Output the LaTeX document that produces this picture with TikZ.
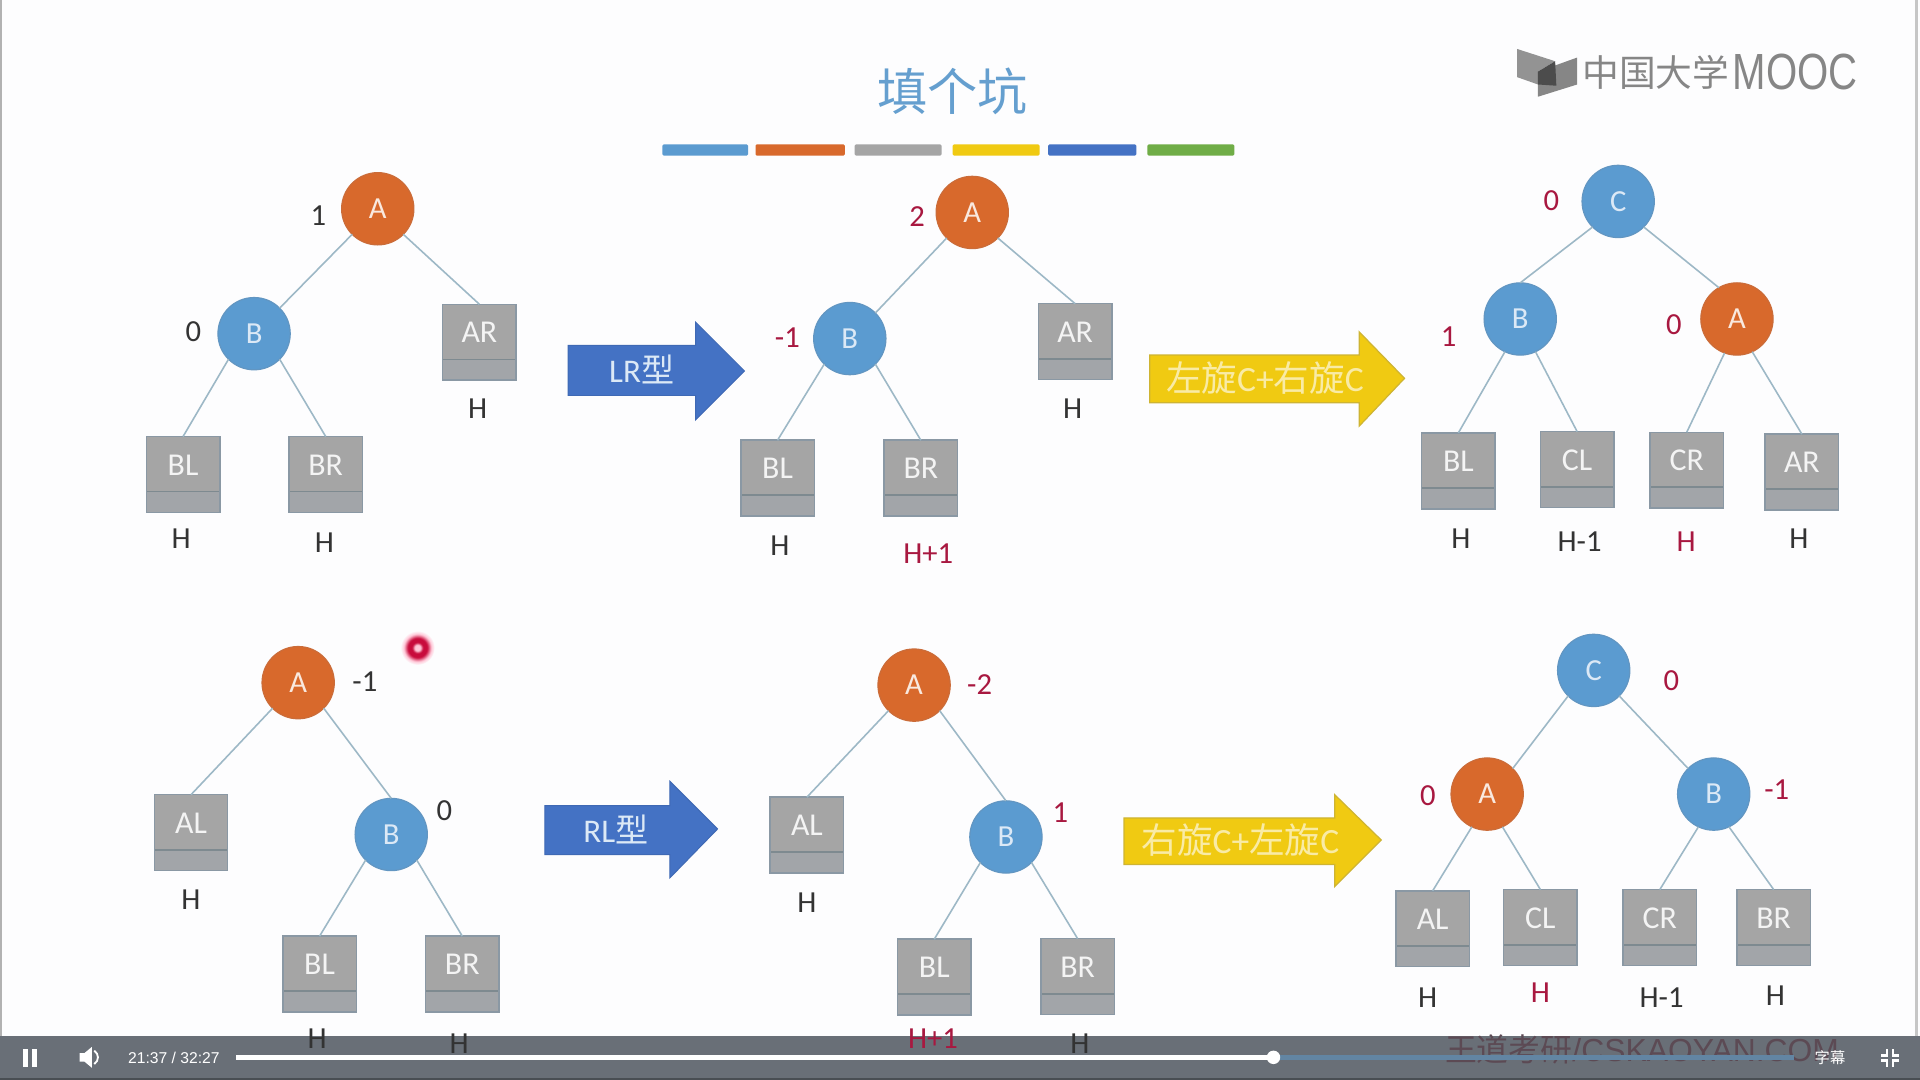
\documentclass[tikz,border=0pt]{standalone}
\usepackage{fontspec}
\setmainfont{Carlito}
\newfontfamily\cjk{Noto Sans CJK SC}
\newfontfamily\ui{Liberation Sans}
\definecolor{mblue}{HTML}{5B9BD0}
\definecolor{mtitle}{HTML}{659FCF}
\definecolor{morange}{HTML}{D8692C}
\definecolor{mgrey}{HTML}{A5A5A5}
\definecolor{mlow}{HTML}{A2A5A9}
\definecolor{mborder}{HTML}{8A98A4}
\definecolor{mdiv}{HTML}{7E8A90}
\definecolor{medge}{HTML}{9DB8C6}
\definecolor{mred}{HTML}{A81840}
\definecolor{mink}{HTML}{333333}
\definecolor{mlight}{HTML}{DCE9F6}
\definecolor{mbar}{HTML}{696F77}
\definecolor{mmark}{HTML}{5C4A54}
\definecolor{myellow}{HTML}{F0CA12}
\definecolor{mdeep}{HTML}{4472C4}
\definecolor{mgreen}{HTML}{70AD47}
\definecolor{mptr}{HTML}{C80C3C}
\definecolor{mcore}{HTML}{FFC8D8}
\definecolor{mpage}{HTML}{FDFDFE}
\pgfdeclareradialshading{ptrshade}{\pgfpoint{0bp}{0bp}}{color(0bp)=(mcore); color(4bp)=(mcore); color(8bp)=(mptr); color(14bp)=(mptr); color(20bp)=(mcore); color(25bp)=(mpage); color(100bp)=(mpage)}
\tikzset{
  circb/.style={circle,minimum size=59pt,inner sep=0pt,outer sep=0pt,fill=mblue,draw=mblue!82!gray,line width=1pt,text=mlight,font=\fontsize{25}{25}\selectfont},
  circo/.style={circb,fill=morange,draw=morange!85!gray,text=white!85!morange},
  leaf/.style={rectangle,minimum width=60pt,inner sep=0pt,outer sep=0pt,text height=31.5pt,text depth=30.5pt,fill=mgrey,draw=mborder,line width=1.2pt,text=white!88!mgrey,font=\fontsize{26}{26}\selectfont,
    path picture={\fill[mlow] ([yshift=17pt]path picture bounding box.south west) rectangle (path picture bounding box.south east);
      \draw[mdiv,line width=1.4pt] ([yshift=17pt]path picture bounding box.south west) -- ([yshift=17pt]path picture bounding box.south east);}},
  edge/.style={draw=medge,line width=1.3pt},
  num/.style={inner sep=0pt,text=mink,font=\fontsize{25}{25}\selectfont},
  rnum/.style={num,text=mred},
  colbar/.style={line width=0pt,rounded corners=1pt},
  barrow/.style={fill=mdeep,draw=mdeep!92!black,line width=.8pt},
  yarrow/.style={fill=myellow,draw=myellow!70!gray,line width=1pt},
  atext/.style={inner sep=0pt,text=mlight},
  ytext/.style={inner sep=0pt,text=white!62!myellow,font=\fontsize{29}{29}\selectfont},
  uitext/.style={inner sep=0pt,text=white}
}
\begin{document}
\begin{tikzpicture}[x=1pt,y=-1pt]
\useasboundingbox (0,0) rectangle (1568,882);
\fill[mpage] (0,0) rectangle (1568,882);
\fill[gray!60] (0,0) rectangle (2,882);
\fill[gray!45] (1564,0) rectangle (1566,882);

% player bar
\fill[mbar] (0,846) rectangle (1568,882);
\fill[mbar!70!black] (0,880) rectangle (1568,882);
\node[inner sep=0pt,text=mmark,font=\fontsize{26}{26}\selectfont] (wm) at (1341,857) {{\cjk 王道考研}{\ui /CSKAOYAN.COM}};
\fill[mblue!50!mbar] (1040,861.6) rectangle (1465,865.4);
\fill[white] (193,861.6) rectangle (1040,865.4);
\fill[white] (1040,863.5) circle (5.5);
\fill[white] (19,857) rectangle (23,871);
\fill[white] (26,857) rectangle (30,871);
\fill[white] (65,860) -- (69,860) -- (75,855) -- (75,872) -- (69,867) -- (65,867) -- cycle;
\draw[white,line width=1.5pt] (77,858) .. controls (81,861) and (81,866) .. (77,869);
\node[uitext,font=\ui\fontsize{12.8}{13}\selectfont] (time) at (142,864) {21:37\ /\ 32:27};
\node[uitext,font=\cjk\fontsize{12.5}{13}\selectfont] (subs) at (1494.5,864) {字幕};
\draw[white,line width=1.8pt] (1541,857) -- (1541,862) -- (1536,862);
\draw[white,line width=1.8pt] (1546,857) -- (1546,862) -- (1551,862);
\draw[white,line width=1.8pt] (1541,871) -- (1541,866) -- (1536,866);
\draw[white,line width=1.8pt] (1546,871) -- (1546,866) -- (1551,866);

% title
\node[inner sep=0pt,text=mtitle,font=\cjk\fontsize{41}{41}\selectfont] (title) at (778,75) {填个坑};
\fill[mblue,colbar] (541,118) rectangle (611,127);
\fill[morange,colbar] (617,118) rectangle (690,127);
\fill[mgrey,colbar] (698,118) rectangle (769,127);
\fill[myellow,colbar] (778,118) rectangle (849,127);
\fill[mdeep,colbar] (856,118) rectangle (928,127);
\fill[mgreen,colbar] (937,118) rectangle (1008,127);

% logo
\fill[gray!85] (1239,40) -- (1270,50) -- (1256,58.5) -- (1256,69) -- (1239,63) -- cycle;
\fill[gray!95] (1288,47) -- (1288,69) -- (1256,79) -- (1256,58.5) -- cycle;
\fill[gray!60!black] (1256,58.5) -- (1270,50) -- (1271,70) -- (1256,69) -- cycle;
\node[inner sep=0pt,anchor=west,text=gray!95,font=\cjk\fontsize{30}{30}\selectfont] (logoa) at (1292,59) {中国大学};
\node[inner sep=0pt,anchor=west,text=gray!95] (logob) at (1415,59) {\resizebox{102pt}{29pt}{\ui MOOC}};

% arrows
\draw[barrow] (464,282) -- (568,282) -- (568,263) -- (608,303) -- (568,343) -- (568,323) -- (464,323) -- cycle;
\node[atext,font=\fontsize{27}{27}\selectfont] (lr) at (524,302) {LR{\cjk 型}};
\draw[barrow] (445,658) -- (547,658) -- (547,638) -- (586,677) -- (547,717) -- (547,698) -- (445,698) -- cycle;
\node[atext,font=\fontsize{27}{27}\selectfont] (rl) at (503,677) {RL{\cjk 型}};
\draw[yarrow] (939,290) -- (1110,290) -- (1110,271) -- (1147,309) -- (1110,348) -- (1110,329) -- (939,329) -- cycle;
\node[ytext] (y1) at (1033,309) {{\cjk 左旋}C+{\cjk 右旋}C};
\draw[yarrow] (918,668) -- (1090,668) -- (1090,649) -- (1128,686) -- (1090,724) -- (1090,706) -- (918,706) -- cycle;
\node[ytext] (y2) at (1013,686) {{\cjk 右旋}C+{\cjk 左旋}C};

% tree 1
\node[circo] (a1) at (308.5,170.5) {A};
\node[circb] (b1) at (207.5,272.5) {B};
\node[leaf] (ar1) at (391.5,279.5) {AR};
\node[leaf] (bl1) at (149.5,387.5) {BL};
\node[leaf] (br1) at (266,387.5) {BR};
\draw[edge] (a1.south west) -- (b1.north east);
\draw[edge] (a1.south east) -- (ar1.north);
\draw[edge] (b1.south west) -- (bl1.north);
\draw[edge] (b1.south east) -- (br1.north);
\node[num] (n1a) at (260,176) {1};
\node[num] (n1b) at (158,271) {0};
\node[num] (h1a) at (390,334) {H};
\node[num] (h1b) at (148,440) {H};
\node[num] (h1c) at (265,443) {H};

% tree 2
\node[circo] (a2) at (794,173.5) {A};
\node[circb] (b2) at (694,276.5) {B};
\node[leaf] (ar2) at (878,279) {AR};
\node[leaf] (bl2) at (635,390.5) {BL};
\node[leaf] (br2) at (752,390.5) {BR};
\draw[edge] (a2.south west) -- (b2.north east);
\draw[edge] (a2.south east) -- (ar2.north);
\draw[edge] (b2.south west) -- (bl2.north);
\draw[edge] (b2.south east) -- (br2.north);
\node[rnum] (n2a) at (749,177) {2};
\node[rnum] (n2b) at (643,276) {-1};
\node[num] (h2a) at (876,334) {H};
\node[num] (h2b) at (637,446) {H};
\node[rnum] (h2c) at (758,452) {H+1};

% tree 3
\node[circb] (c3) at (1321.5,164.5) {C};
\node[circb] (b3) at (1241.5,260.5) {B};
\node[circo] (a3) at (1418.5,260.5) {A};
\node[leaf] (bl3) at (1191,384.5) {BL};
\node[leaf] (cl3) at (1288,383.5) {CL};
\node[leaf] (cr3) at (1377.5,384) {CR};
\node[leaf] (ar3) at (1471.5,385.5) {AR};
\draw[edge] (c3.south west) -- (b3.north);
\draw[edge] (c3.south east) -- (a3.120);
\draw[edge] (b3.-115) -- (bl3.north);
\draw[edge] (b3.-65) -- (cl3.north);
\draw[edge] (a3.-110) -- (cr3.north);
\draw[edge] (a3.-65) -- (ar3.north);
\node[rnum] (n3a) at (1267,164) {0};
\node[rnum] (n3b) at (1183,275) {1};
\node[rnum] (n3c) at (1367,265) {0};
\node[num] (h3a) at (1193,440) {H};
\node[num] (h3b) at (1290,442) {H-1};
\node[rnum] (h3c) at (1377,442) {H};
\node[num] (h3d) at (1469,440) {H};

% tree 4
\node[circo] (a4) at (243.5,557.5) {A};
\node[circb] (b4) at (319.5,681.5) {B};
\node[leaf] (al4) at (156,680) {AL};
\node[leaf] (bl4) at (261,795.5) {BL};
\node[leaf] (br4) at (377.5,795.5) {BR};
\draw[edge] (a4.south west) -- (al4.north);
\draw[edge] (a4.south east) -- (b4.north);
\draw[edge] (b4.south west) -- (bl4.north);
\draw[edge] (b4.south east) -- (br4.north);
\node[num] (n4a) at (298,557) {-1};
\node[num] (n4b) at (363,662) {0};
\node[num] (h4a) at (156,735) {H};
\node[num] (h4b) at (259,848) {H};
\node[num] (h4c) at (375,852) {H};

% tree 5
\node[circo] (a5) at (746.5,559.5) {A};
\node[circb] (b5) at (821.5,683.5) {B};
\node[leaf] (al5) at (659,682) {AL};
\node[leaf] (bl5) at (763,798) {BL};
\node[leaf] (br5) at (880,797.5) {BR};
\draw[edge] (a5.south west) -- (al5.north);
\draw[edge] (a5.south east) -- (b5.north);
\draw[edge] (b5.south west) -- (bl5.north);
\draw[edge] (b5.south east) -- (br5.north);
\node[rnum] (n5a) at (800,559) {-2};
\node[rnum] (n5b) at (866,664) {1};
\node[num] (h5a) at (659,737) {H};
\node[rnum] (h5b) at (762,848) {H+1};
\node[num] (h5c) at (882,852) {H};

% tree 6
\node[circb] (c6) at (1301.5,547.5) {C};
\node[circo] (a6) at (1214.5,648.5) {A};
\node[circb] (b6) at (1399.5,648.5) {B};
\node[leaf] (al6) at (1170,758.5) {AL};
\node[leaf] (cl6) at (1258,757.5) {CL};
\node[leaf] (cr6) at (1355.5,757.5) {CR};
\node[leaf] (br6) at (1448.5,757.5) {BR};
\draw[edge] (c6.south west) -- (a6.north east);
\draw[edge] (c6.south east) -- (b6.north west);
\draw[edge] (a6.-115) -- (al6.north);
\draw[edge] (a6.-65) -- (cl6.north);
\draw[edge] (b6.-115) -- (cr6.north);
\draw[edge] (b6.-65) -- (br6.north);
\node[rnum] (n6a) at (1365,556) {0};
\node[rnum] (n6b) at (1166,650) {0};
\node[rnum] (n6c) at (1451,645) {-1};
\node[num] (h6a) at (1166,815) {H};
\node[rnum] (h6b) at (1258,811) {H};
\node[num] (h6c) at (1357,815) {H-1};
\node[num] (h6d) at (1450,813) {H};

% pointer
\shade[shading=ptrshade] (341,529) circle (14);
\end{tikzpicture}
\end{document}
